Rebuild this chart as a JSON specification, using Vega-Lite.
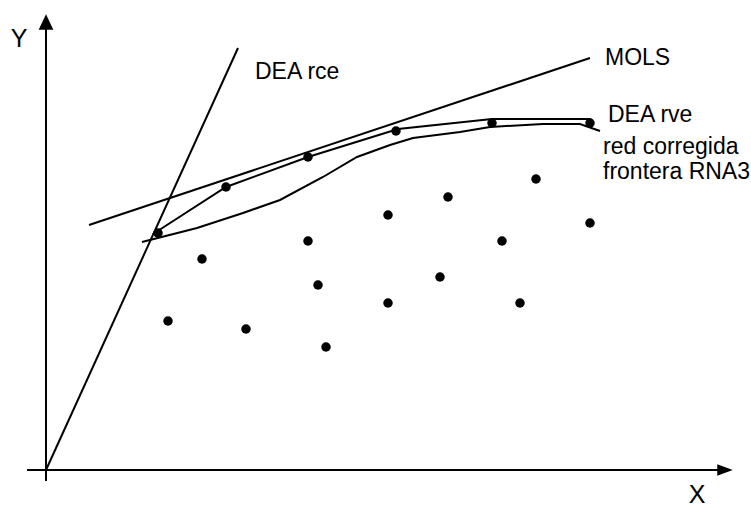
{
  "$schema": "https://vega.github.io/schema/vega-lite/v6.json",
  "width": 751,
  "height": 509,
  "autosize": {"type": "fit", "contains": "padding"},
  "padding": 0,
  "background": "white",
  "config": {"view": {"stroke": null}, "text": {"font": "Liberation Sans"}},
  "datasets": {
    "axes": [
      {"axis": "X", "x": -19, "y": 0, "x2": 673, "y2": 0},
      {"axis": "Y", "x": 0, "y": -11, "x2": 0, "y2": 443}
    ],
    "arrows": [
      {"axis": "X", "x": 679, "y": 0, "shape": "M -1 -0.75 L 1 0 L -1 0.75 Z"},
      {"axis": "Y", "x": 0, "y": 448, "shape": "M -0.95 1 L 0 -1 L 0.95 1 Z"}
    ],
    "lines": [
      {"series": "DEA rce", "i": 0, "x": 0, "y": 0},
      {"series": "DEA rce", "i": 1, "x": 192, "y": 422},
      {"series": "MOLS", "i": 0, "x": 43, "y": 245},
      {"series": "MOLS", "i": 1, "x": 544, "y": 412},
      {"series": "DEA rve", "i": 0, "x": 107, "y": 236},
      {"series": "DEA rve", "i": 1, "x": 180, "y": 283},
      {"series": "DEA rve", "i": 2, "x": 262, "y": 313},
      {"series": "DEA rve", "i": 3, "x": 352, "y": 341},
      {"series": "DEA rve", "i": 4, "x": 446, "y": 351},
      {"series": "DEA rve", "i": 5, "x": 544, "y": 351},
      {"series": "DEA rve", "i": 6, "x": 546, "y": 346},
      {"series": "RNA3", "i": 0, "x": 96, "y": 228},
      {"series": "RNA3", "i": 1, "x": 151, "y": 242},
      {"series": "RNA3", "i": 2, "x": 197, "y": 257},
      {"series": "RNA3", "i": 3, "x": 234, "y": 270},
      {"series": "RNA3", "i": 4, "x": 277, "y": 293},
      {"series": "RNA3", "i": 5, "x": 311, "y": 313},
      {"series": "RNA3", "i": 6, "x": 344, "y": 325},
      {"series": "RNA3", "i": 7, "x": 367, "y": 332},
      {"series": "RNA3", "i": 8, "x": 414, "y": 338},
      {"series": "RNA3", "i": 9, "x": 444, "y": 343},
      {"series": "RNA3", "i": 10, "x": 497, "y": 346},
      {"series": "RNA3", "i": 11, "x": 534, "y": 346},
      {"series": "RNA3", "i": 12, "x": 554, "y": 339}
    ],
    "points": [
      {"x": 112, "y": 237}, {"x": 180, "y": 283}, {"x": 262, "y": 313},
      {"x": 350, "y": 339}, {"x": 446, "y": 347}, {"x": 544, "y": 347},
      {"x": 156, "y": 211}, {"x": 262, "y": 229}, {"x": 342, "y": 255},
      {"x": 402, "y": 273}, {"x": 490, "y": 291}, {"x": 544, "y": 247},
      {"x": 456, "y": 229}, {"x": 272, "y": 185}, {"x": 394, "y": 193},
      {"x": 342, "y": 167}, {"x": 474, "y": 167}, {"x": 122, "y": 149},
      {"x": 200, "y": 141}, {"x": 280, "y": 123}
    ],
    "labels": [
      {"label": "DEA rce", "x": 209, "y": 398},
      {"label": "MOLS", "x": 559, "y": 412},
      {"label": "DEA rve", "x": 562, "y": 355},
      {"label": "red corregida", "x": 557, "y": 323},
      {"label": "frontera RNA3", "x": 557, "y": 298}
    ],
    "axislabels": [
      {"label": "Y", "x": -27, "y": 431},
      {"label": "X", "x": 651, "y": -25}
    ]
  },
  "layer": [
    {
      "data": {"name": "axes"},
      "mark": {"type": "rule", "color": "black", "strokeWidth": 2},
      "encoding": {
        "x": {"field": "x", "type": "quantitative", "scale": {"domain": [-46, 705], "nice": false, "zero": false}, "axis": null},
        "y": {"field": "y", "type": "quantitative", "scale": {"domain": [-39, 470], "nice": false, "zero": false}, "axis": null},
        "x2": {"field": "x2"},
        "y2": {"field": "y2"}
      }
    },
    {
      "data": {"name": "arrows"},
      "mark": {"type": "point", "filled": true, "color": "black", "opacity": 1, "strokeWidth": 0},
      "encoding": {
        "x": {"field": "x", "type": "quantitative", "scale": {"domain": [-46, 705], "nice": false, "zero": false}, "axis": null},
        "y": {"field": "y", "type": "quantitative", "scale": {"domain": [-39, 470], "nice": false, "zero": false}, "axis": null},
        "shape": {"field": "shape", "type": "nominal", "scale": null, "legend": null},
        "size": {"value": 240}
      }
    },
    {
      "data": {"name": "lines"},
      "mark": {"type": "line", "color": "black", "strokeWidth": 2},
      "encoding": {
        "x": {"field": "x", "type": "quantitative", "scale": {"domain": [-46, 705], "nice": false, "zero": false}, "axis": null},
        "y": {"field": "y", "type": "quantitative", "scale": {"domain": [-39, 470], "nice": false, "zero": false}, "axis": null},
        "detail": {"field": "series", "type": "nominal"},
        "order": {"field": "i", "type": "quantitative"}
      }
    },
    {
      "data": {"name": "points"},
      "mark": {"type": "circle", "color": "black", "opacity": 1, "size": 90},
      "encoding": {
        "x": {"field": "x", "type": "quantitative", "scale": {"domain": [-46, 705], "nice": false, "zero": false}, "axis": null},
        "y": {"field": "y", "type": "quantitative", "scale": {"domain": [-39, 470], "nice": false, "zero": false}, "axis": null}
      }
    },
    {
      "data": {"name": "labels"},
      "mark": {"type": "text", "align": "left", "baseline": "middle", "fontSize": 23, "color": "black"},
      "encoding": {
        "x": {"field": "x", "type": "quantitative", "scale": {"domain": [-46, 705], "nice": false, "zero": false}, "axis": null},
        "y": {"field": "y", "type": "quantitative", "scale": {"domain": [-39, 470], "nice": false, "zero": false}, "axis": null},
        "text": {"field": "label", "type": "nominal"}
      }
    },
    {
      "data": {"name": "axislabels"},
      "mark": {"type": "text", "align": "center", "baseline": "middle", "fontSize": 25, "color": "black"},
      "encoding": {
        "x": {"field": "x", "type": "quantitative", "scale": {"domain": [-46, 705], "nice": false, "zero": false}, "axis": null},
        "y": {"field": "y", "type": "quantitative", "scale": {"domain": [-39, 470], "nice": false, "zero": false}, "axis": null},
        "text": {"field": "label", "type": "nominal"}
      }
    }
  ]
}
